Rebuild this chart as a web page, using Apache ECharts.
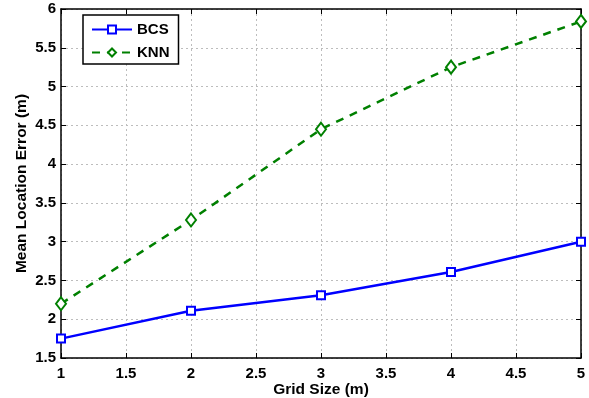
<!DOCTYPE html>
<html><head><meta charset="utf-8">
<script src="https://cdn.jsdelivr.net/npm/echarts@6/dist/echarts.min.js"></script>
<style>html,body{margin:0;padding:0;background:#fff}#c{width:589px;height:398px}</style>
</head><body><div id="c"></div>
<script>
const gridSizes = [1, 2, 3, 4, 5];
const bcsValues = [1.75, 2.11, 2.31, 2.61, 3.0];
const knnValues = [2.2, 3.28, 4.45, 5.25, 5.84];
const seriesNames = ['BCS', 'KNN'];

const font = 'Liberation Sans, Arial, Helvetica, sans-serif';
const chart = echarts.init(document.getElementById('c'));
const gridLine = {show: true, lineStyle: {color: '#bdbdbd', type: [2, 3], width: 1}};
const axisCommon = {
  axisLine: {show: true, onZero: false, lineStyle: {color: '#000', width: 1.5}},
  axisTick: {show: true, inside: true, length: 5, lineStyle: {color: '#000', width: 1}}
};
chart.setOption({
  animation: false,
  grid: {left: 61, right: 8, top: 9, bottom: 40, containLabel: false, outerBoundsMode: 'none'},
  legend: {
    left: 83, top: 15, orient: 'vertical',
    data: seriesNames,
    backgroundColor: '#fff', borderColor: '#000', borderWidth: 1.5,
    padding: [7, 9, 4, 8], itemGap: 8, itemWidth: 40, itemHeight: 10,
    textStyle: {fontFamily: font, fontWeight: 'bold', fontSize: 15, color: '#000'}
  },
  xAxis: [{
    type: 'value', min: 1, max: 5, interval: 0.5, position: 'bottom',
    ...axisCommon,
    splitLine: gridLine,
    axisLabel: {fontFamily: font, fontWeight: 'bold', fontSize: 15, color: '#000', margin: 8},
    name: 'Grid Size (m)', nameLocation: 'middle', nameGap: 24, nameMoveOverlap: false,
    nameTextStyle: {fontFamily: font, fontWeight: 'bold', fontSize: 15.5, color: '#000'}
  }, {
    type: 'value', min: 1, max: 5, interval: 0.5, position: 'top',
    ...axisCommon, axisLabel: {show: false}, splitLine: {show: false}
  }],
  yAxis: [{
    type: 'value', min: 1.5, max: 6, interval: 0.5, position: 'left',
    ...axisCommon,
    splitLine: gridLine,
    axisLabel: {fontFamily: font, fontWeight: 'bold', fontSize: 15, color: '#000', margin: 5},
    name: 'Mean Location Error (m)', nameLocation: 'middle', nameGap: 31, nameMoveOverlap: false,
    nameTextStyle: {fontFamily: font, fontWeight: 'bold', fontSize: 15.5, color: '#000'}
  }, {
    type: 'value', min: 1.5, max: 6, interval: 0.5, position: 'right',
    ...axisCommon, axisLabel: {show: false}, splitLine: {show: false}
  }],
  series: [{
    name: seriesNames[0], type: 'line',
    data: gridSizes.map((x, i) => [x, bcsValues[i]]),
    symbol: 'rect', symbolSize: 8,
    lineStyle: {color: '#0000ff', width: 2.5},
    itemStyle: {color: '#fff', borderColor: '#0000ff', borderWidth: 2}
  }, {
    name: seriesNames[1], type: 'line',
    data: gridSizes.map((x, i) => [x, knnValues[i]]),
    symbol: 'diamond', symbolSize: [10, 13],
    lineStyle: {color: '#008000', width: 2.5, type: [8, 7]},
    itemStyle: {color: '#fff', borderColor: '#008000', borderWidth: 2}
  }]
});
</script></body></html>
